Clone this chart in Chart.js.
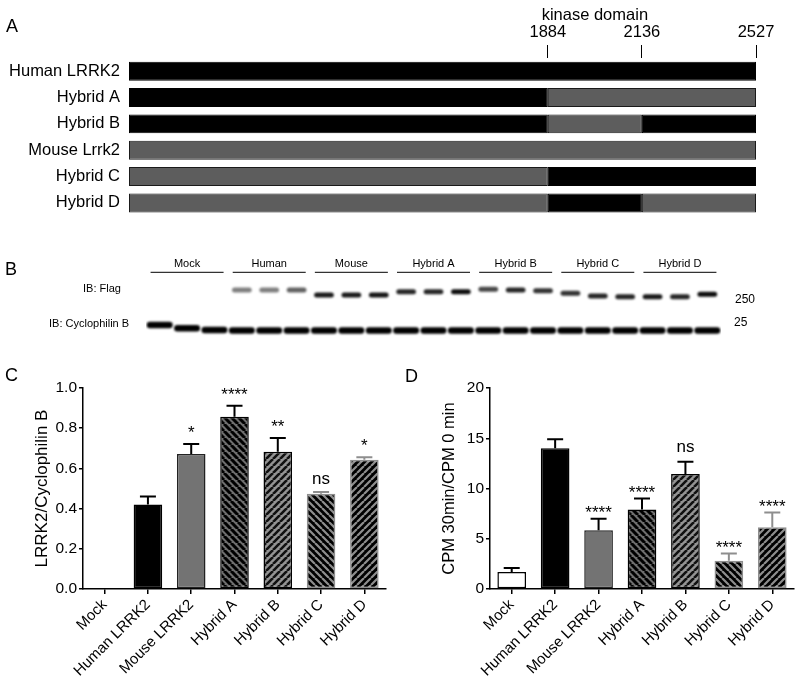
<!DOCTYPE html>
<html>
<head>
<meta charset="utf-8">
<title>LRRK2 hybrids</title>
<script src="https://cdn.jsdelivr.net/npm/chart.js@4.4.0/dist/chart.umd.min.js"></script>
<style>
    html, body { margin: 0; padding: 0; background: #fff; }
    #page { position: relative; width: 800px; height: 681px; overflow: hidden; font-family: 'Liberation Sans', Arial, sans-serif; color: #000; }
    .box { position: absolute; }
    .txt { position: absolute; white-space: nowrap; line-height: 1; }
    .letter { font-size: 18px; }
    .blot-lbl { font-size: 11px; }
</style>
</head>
<body>
<div id="page">
    <div class="box" style="left:0;top:0"><canvas id="domain-chart" width="800" height="235"></canvas></div>
    <div class="box" style="left:0;top:240px"><canvas id="blot-chart" width="800" height="100"></canvas></div>
    <div class="box" style="left:0;top:340px"><canvas id="expr-chart" width="400" height="341"></canvas></div>
    <div class="box" style="left:400px;top:340px"><canvas id="kinase-chart" width="400" height="341"></canvas></div>

    <div class="txt letter" style="left:6px;top:17px">A</div>
    <div class="txt letter" style="left:5px;top:260px">B</div>
    <div class="txt letter" style="left:5px;top:366px">C</div>
    <div class="txt letter" style="left:405px;top:367px">D</div>

    <div class="txt blot-lbl" style="left:83px;top:283px">IB: Flag</div>
    <div class="txt blot-lbl" style="left:49px;top:318px">IB: Cyclophilin B</div>
    <div class="txt" style="left:735px;top:293px;font-size:12px">250</div>
    <div class="txt" style="left:734px;top:316px;font-size:12px">25</div>
</div>

<script>
// =================================================================
// Data
// =================================================================

// --- A: domain diagram (amino-acid positions) ---
const constructNames = ['Human LRRK2', 'Hybrid A', 'Hybrid B', 'Mouse Lrrk2', 'Hybrid C', 'Hybrid D'];
const segmentBounds = [1, 1884, 2136, 2527];
const domainTicks = [1884, 2136, 2527];
const kinaseRange = [1884, 2136];
// origin of each segment (H = human, M = mouse) for every construct
const nTermOrigin = ['H', 'H', 'H', 'M', 'M', 'M'];
const kinaseOrigin = ['H', 'M', 'M', 'M', 'H', 'H'];
const cTermOrigin = ['H', 'M', 'H', 'M', 'H', 'M'];

// --- B: western blot (band migration in a.u., band darkness 0-1) ---
const laneGroups = ['Mock', 'Human', 'Mouse', 'Hybrid A', 'Hybrid B', 'Hybrid C', 'Hybrid D'];
const flagBandPos = [null, null, null, 12, 12, 12, 17, 17, 17, 13.7, 13.7, 13.7,
    11.3, 12, 12.7, 15.3, 18, 18.7, 18.7, 18.7, 16.3];
const flagBandStrength = [0, 0, 0, 0.5, 0.5, 0.62, 0.9, 0.9, 0.92, 0.85, 0.85, 0.95,
    0.72, 0.85, 0.8, 0.8, 0.85, 0.85, 0.9, 0.85, 0.95];
const cycloBandPos = [47, 50.3, 52, 52.5, 52.5, 52.5, 52.5, 52.5, 52.5, 52.5, 52.5, 52.5,
    52.5, 52.5, 52.5, 52.5, 52.5, 52.5, 52.5, 52.5, 52.5];
const cycloBandStrength = Array(21).fill(1);

// --- C and D: bar charts ---
const groupNames = ['Mock', 'Human LRRK2', 'Mouse LRRK2', 'Hybrid A', 'Hybrid B', 'Hybrid C', 'Hybrid D'];
const expressionMean = [0, 0.42, 0.672, 0.857, 0.683, 0.474, 0.643];
const expressionSem = [0, 0.04, 0.05, 0.055, 0.068, 0.008, 0.013];
const expressionSig = ['', '', '*', '****', '**', 'ns', '*'];
const expressionTicks = [0, 0.2, 0.4, 0.6, 0.8, 1.0];

const kinaseMean = [1.7, 14.0, 5.85, 7.9, 11.45, 2.8, 6.15];
const kinaseSem = [0.4, 0.9, 1.15, 1.1, 1.2, 0.72, 1.45];
const kinaseSig = ['', '', '****', '****', 'ns', '****', '****'];
const kinaseTicks = [0, 5, 10, 15, 20];

// =================================================================
// Styles
// =================================================================
const FONT = "'Liberation Sans', Arial, Helvetica, sans-serif";
const HUMAN_FILL = '#000000';
const MOUSE_FILL = '#5d5d5d';
const LIGHT = '#8e8e8e';

Chart.defaults.font.family = FONT;
Chart.defaults.color = '#000';
Chart.defaults.animation = false;

function stripes(bg, fg, dir, lw) {
    const s = 7;
    const c = document.createElement('canvas');
    c.width = s; c.height = s;
    const g = c.getContext('2d');
    g.fillStyle = bg;
    g.fillRect(0, 0, s, s);
    g.strokeStyle = fg;
    g.lineWidth = lw;
    g.beginPath();
    for (const o of [-s, 0, s]) {
        if (dir === '/') { g.moveTo(o, s); g.lineTo(o + s, 0); }
        else { g.moveTo(o, 0); g.lineTo(o + s, s); }
    }
    g.stroke();
    return g.createPattern(c, 'repeat');
}

const barFills = [
    '#ffffff', '#000000', '#737373',
    stripes('#6e6e6e', '#000', '\\', 3),
    stripes('#939393', '#111', '/', 2.6),
    stripes('#000', LIGHT, '\\', 2.2),
    stripes('#000', LIGHT, '/', 2.2)
];
const barEdges = ['#000', '#000', '#222', '#000', '#000', LIGHT, LIGHT];

// =================================================================
// Schematic scale: piecewise-linear so the diagram is not drawn to scale
// =================================================================
class SchematicScale extends Chart.LinearScale {
    getPixelForValue(value) {
        const b = this.options.breaks;
        const f = this.options.fractions;
        let i = 0;
        while (i < b.length - 2 && value > b[i + 1]) i++;
        const dec = f[i] + (value - b[i]) / (b[i + 1] - b[i]) * (f[i + 1] - f[i]);
        return this.getPixelForDecimal(dec);
    }
}
SchematicScale.id = 'schematic';
SchematicScale.defaults = Chart.LinearScale.defaults;
Chart.register(SchematicScale);

// =================================================================
// Plugins
// =================================================================
const kinaseLabelPlugin = {
    id: 'kinaseLabel',
    afterDraw(chart) {
        const x = chart.scales.x;
        const ctx = chart.ctx;
        const cx = (x.getPixelForValue(kinaseRange[0]) + x.getPixelForValue(kinaseRange[1])) / 2;
        ctx.save();
        ctx.font = `16.5px ${FONT}`;
        ctx.fillStyle = '#000';
        ctx.textAlign = 'center';
        ctx.textBaseline = 'alphabetic';
        ctx.fillText('kinase domain', cx, 19.5);
        ctx.restore();
    }
};

const bandBlurPlugin = {
    id: 'bandBlur',
    beforeDatasetsDraw(chart) {
        chart.ctx.save();
        chart.ctx.filter = 'blur(1.3px)';
    },
    afterDatasetsDraw(chart) {
        chart.ctx.restore();
    },
    afterDraw(chart) {
        // lines under the lane-group names
        const g = chart.scales.groups;
        const ctx = chart.ctx;
        const y = chart.chartArea.top - 5.7;
        ctx.save();
        ctx.strokeStyle = '#333';
        ctx.lineWidth = 1.2;
        ctx.beginPath();
        laneGroups.forEach((_, i) => {
            const cx = g.getPixelForValue(i);
            ctx.moveTo(cx - 36.5, y);
            ctx.lineTo(cx + 36.5, y);
        });
        ctx.stroke();
        ctx.restore();
    }
};

const errorBarPlugin = {
    id: 'errorBars',
    afterDatasetsDraw(chart, args, opts) {
        const ctx = chart.ctx;
        const meta = chart.getDatasetMeta(0);
        const yScale = chart.scales.y;
        const values = chart.data.datasets[0].data;
        ctx.save();
        meta.data.forEach((bar, i) => {
            const v = values[i];
            const e = opts.errors[i];
            let topY = bar.y;
            if (e > 0) {
                topY = yScale.getPixelForValue(v + e);
                ctx.strokeStyle = barEdges[i] === LIGHT ? LIGHT : '#000';
                ctx.lineWidth = 2;
                ctx.beginPath();
                ctx.moveTo(bar.x, bar.y);
                ctx.lineTo(bar.x, topY);
                ctx.moveTo(bar.x - 8, topY);
                ctx.lineTo(bar.x + 8, topY);
                ctx.stroke();
            }
            const mark = opts.marks[i];
            if (mark) {
                const star = mark.startsWith('*');
                ctx.fillStyle = '#000';
                ctx.font = `17px ${FONT}`;
                ctx.textAlign = 'center';
                ctx.textBaseline = 'alphabetic';
                ctx.fillText(mark, bar.x, topY - (star ? opts.starGap : opts.nsGap));
            }
        });
        ctx.restore();
    }
};

// =================================================================
// A: domain diagram
// =================================================================

// merge neighbouring segments of the same origin into one run
const segmentOrigins = [nTermOrigin, kinaseOrigin, cTermOrigin];
const constructRuns = constructNames.map((_, r) => {
    const runs = [];
    segmentOrigins.forEach((origin, s) => {
        const last = runs[runs.length - 1];
        if (last && last.origin === origin[r]) {
            last.end = segmentBounds[s + 1];
        } else {
            runs.push({ origin: origin[r], start: segmentBounds[s], end: segmentBounds[s + 1] });
        }
    });
    return runs;
});

new Chart(document.getElementById('domain-chart'), {
    type: 'bar',
    data: {
        labels: constructNames,
        datasets: segmentOrigins.map((_, k) => ({
            data: constructRuns.map(runs => runs[k] ? [runs[k].start, runs[k].end] : null),
            backgroundColor: constructRuns.map(runs => runs[k] && runs[k].origin === 'M' ? MOUSE_FILL : HUMAN_FILL),
            borderColor: constructRuns.map(runs => runs[k] && runs[k].origin === 'M' ? '#1a1a1a' : '#000'),
            borderWidth: 1,
            borderSkipped: false,
            grouped: false,
            barPercentage: 0.72,
            categoryPercentage: 1
        }))
    },
    options: {
        indexAxis: 'y',
        responsive: false,
        layout: { padding: { right: 44, bottom: 10 } },
        plugins: { legend: { display: false }, tooltip: { enabled: false } },
        scales: {
            x: {
                type: 'schematic',
                position: 'top',
                min: 1,
                max: 2527,
                breaks: segmentBounds,
                fractions: [0, 0.668, 0.818, 1],
                afterBuildTicks: s => { s.ticks = domainTicks.map(v => ({ value: v })); },
                ticks: { callback: v => String(v), font: { size: 16.5 }, padding: 3, color: '#000' },
                grid: { drawOnChartArea: false, tickLength: 13, color: '#000', lineWidth: 1 },
                border: { display: false },
                afterFit: s => { s.height = 58; }
            },
            y: {
                grid: { display: false, drawTicks: false },
                border: { display: false },
                ticks: { font: { size: 16.5 }, padding: 9, color: '#000' },
                afterFit: s => { s.width = 129; }
            }
        }
    },
    plugins: [kinaseLabelPlugin]
});

// =================================================================
// B: western blot
// =================================================================
const laneNames = laneGroups.flatMap(g => [g + ' 1', g + ' 2', g + ' 3']);

new Chart(document.getElementById('blot-chart'), {
    type: 'bar',
    data: {
        labels: laneNames,
        datasets: [{
            label: 'IB: Flag',
            data: flagBandPos.map(p => p === null ? null : [p - 2.5, p + 2.5]),
            backgroundColor: flagBandStrength.map(a => `rgba(0,0,0,${a})`),
            borderWidth: 0,
            borderRadius: 2.5,
            borderSkipped: false,
            grouped: false,
            barPercentage: 0.72,
            categoryPercentage: 1
        }, {
            label: 'IB: Cyclophilin B',
            data: cycloBandPos.map(p => [p - 3.3, p + 3.3]),
            backgroundColor: cycloBandStrength.map(a => `rgba(0,0,0,${a})`),
            borderWidth: 0,
            borderRadius: 3.3,
            borderSkipped: false,
            grouped: false,
            barPercentage: 0.95,
            categoryPercentage: 1
        }]
    },
    options: {
        responsive: false,
        layout: { padding: { left: 146, right: 79, bottom: 2 } },
        plugins: { legend: { display: false }, tooltip: { enabled: false } },
        scales: {
            x: { display: false, offset: true },
            groups: {
                type: 'category',
                labels: laneGroups,
                position: 'top',
                offset: true,
                grid: { display: false, drawTicks: false },
                border: { display: false },
                ticks: { font: { size: 11 }, padding: 7.4, color: '#000' },
                afterFit: s => { s.height = 38; }
            },
            y: { display: false, min: 0, max: 60, reverse: true }
        }
    },
    plugins: [bandBlurPlugin]
});

// =================================================================
// C and D: bar charts with error bars
// =================================================================
function renderBarPanel(canvasId, values, sems, marks, ticksList, title, opts) {
    return new Chart(document.getElementById(canvasId), {
        type: 'bar',
        data: {
            labels: groupNames,
            datasets: [{
                data: values,
                backgroundColor: barFills,
                borderColor: barEdges,
                borderWidth: ctx => (ctx.raw > 0 ? 1.5 : 0),
                borderSkipped: false,
                barPercentage: 0.66,
                categoryPercentage: 1
            }]
        },
        options: {
            responsive: false,
            layout: { padding: { top: 48, right: opts.padRight } },
            plugins: {
                legend: { display: false },
                tooltip: { enabled: false },
                errorBars: { errors: sems, marks: marks, starGap: opts.starGap, nsGap: opts.nsGap }
            },
            scales: {
                x: {
                    grid: { drawOnChartArea: false, offset: false, tickLength: 5, color: '#000', lineWidth: 1.5 },
                    border: { color: '#000', width: 1.5 },
                    ticks: { font: { size: 15 }, minRotation: 45, maxRotation: 45, padding: 2, autoSkip: false, color: '#000' },
                    afterFit: s => { s.height = 92; }
                },
                y: {
                    min: ticksList[0],
                    max: ticksList[ticksList.length - 1],
                    afterBuildTicks: s => { s.ticks = ticksList.map(v => ({ value: v })); },
                    ticks: { callback: opts.fmt, font: { size: 15.5 }, padding: 2, color: '#000' },
                    grid: { drawOnChartArea: false, tickLength: 4, color: '#000', lineWidth: 1.5 },
                    border: { color: '#000', width: 1.5 },
                    title: { display: true, text: title, font: { size: opts.titleSize }, color: '#000', padding: { top: opts.titlePad } },
                    afterFit: s => { s.width = opts.axisWidth; }
                }
            }
        },
        plugins: [errorBarPlugin]
    });
}

renderBarPanel('expr-chart', expressionMean, expressionSem, expressionSig, expressionTicks,
    'LRRK2/Cyclophilin B',
    { padRight: 14, axisWidth: 83, titleSize: 17, titlePad: 31.8, starGap: 6, nsGap: 8.6, fmt: v => v.toFixed(1) });

renderBarPanel('kinase-chart', kinaseMean, kinaseSem, kinaseSig, kinaseTicks,
    'CPM 30min/CPM 0 min',
    { padRight: 6, axisWidth: 90, titleSize: 16.5, titlePad: 40, starGap: 1, nsGap: 9.6, fmt: v => String(v) });
</script>
</body>
</html>
